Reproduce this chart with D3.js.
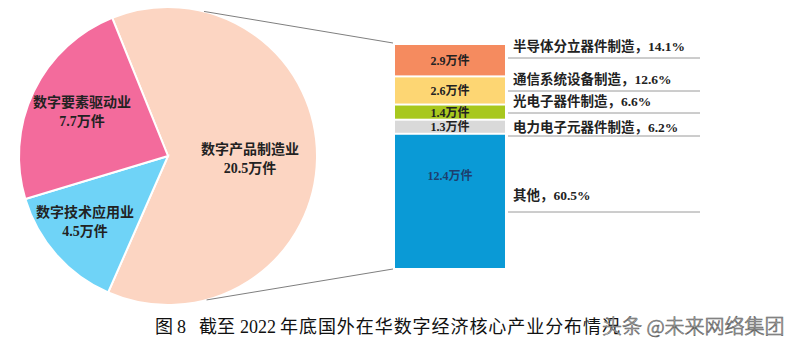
<!DOCTYPE html>
<html><head><meta charset="utf-8">
<script src="https://cdn.jsdelivr.net/npm/d3@7"></script>
<style>
html,body{margin:0;padding:0;background:#fff;}
svg{display:block;}
</style></head>
<body>
<svg id="chart" width="800" height="352"></svg>
<script>
// Pie data (万件)
const pieNames = ["数字产品制造业", "数字技术应用业", "数字要素驱动业"];
const pieValues = [20.5, 4.5, 7.7];
const pieColors = ["#FCD5C2", "#6FD3F7", "#F36B9C"];

// Breakdown of 数字产品制造业 (万件)
const barNames = ["半导体分立器件制造", "通信系统设备制造", "光电子器件制造", "电力电子元器件制造", "其他"];
const barValues = [2.9, 2.6, 1.4, 1.3, 12.4];
const barShares = ["14.1%", "12.6%", "6.6%", "6.2%", "60.5%"];
const barColors = ["#F58B5F", "#FDD673", "#A8C81E", "#D9D9D9", "#0A9AD6"];

const captionParts = ["图", "8", "截至", "2022", "年底国外在华数字经济核心产业分布情况"];
const watermark = "头条 @未来网络集团";

const svg = d3.select("#chart");
const FONT = "'Liberation Serif','Noto Sans CJK SC',serif";

// ---- Pie ----
const cx = 168, cy = 156, R = 149;
const deg = Math.PI / 180;
const pie = d3.pie().sort(null).value(d => d).startAngle(-22 * deg).endAngle(338 * deg);
const arcs = pie(pieValues);
const arc = d3.arc().innerRadius(0).outerRadius(R);
const g = svg.append("g").attr("transform", `translate(${cx},${cy})`);
g.selectAll("path").data(arcs).join("path")
  .attr("d", arc)
  .attr("fill", (d, i) => pieColors[i])
  .attr("stroke", "#fff").attr("stroke-width", 2);

const labelPos = [[82, -2], [-83, 61], [-86, -49]];
arcs.forEach((a, i) => {
  const t = g.append("text")
    .attr("x", labelPos[i][0]).attr("y", labelPos[i][1])
    .attr("text-anchor", "middle")
    .attr("font-family", FONT).attr("font-weight", "bold")
    .attr("font-size", 14).attr("fill", "#222");
  t.append("tspan").attr("x", labelPos[i][0]).attr("dy", 0).text(pieNames[i]);
  t.append("tspan").attr("x", labelPos[i][0]).attr("dy", 19).text(pieValues[i] + "万件");
});

// ---- Stacked bar ----
const barX = 395, barW = 110, barTop = 45, barBottom = 268;
let cum = 0;
const stack = barValues.map((v, i) => { const s = cum; cum += v; return {i, v, y0: s, y1: cum}; });
const y = d3.scaleLinear().domain([0, cum]).range([barTop, barBottom]);
const gap = 2;
svg.selectAll("rect.seg").data(stack).join("rect")
  .attr("class", "seg")
  .attr("x", barX).attr("width", barW)
  .attr("y", d => y(d.y0) + (d.i === 0 ? 0 : gap / 2))
  .attr("height", d => y(d.y1) - y(d.y0) - (d.i === 0 || d.i === stack.length - 1 ? gap / 2 : gap))
  .attr("fill", d => barColors[d.i]);

svg.selectAll("text.seg").data(stack).join("text")
  .attr("class", "seg")
  .attr("x", barX + barW / 2)
  .attr("y", d => d.i === stack.length - 1 ? y(d.y0) + 46 : (y(d.y0) + y(d.y1)) / 2 + 4.5)
  .attr("text-anchor", "middle")
  .attr("font-family", FONT).attr("font-weight", "bold")
  .attr("font-size", 12)
  .attr("fill", d => d.i === stack.length - 1 ? "#1d3f6e" : "#222")
  .text(d => d.v + "万件");

// connectors from pie to bar
const a1 = 14 * deg, a2 = 165 * deg;
svg.append("line")
  .attr("x1", cx + R * Math.sin(a1)).attr("y1", cy - R * Math.cos(a1))
  .attr("x2", barX - 2).attr("y2", barTop - 2)
  .attr("stroke", "#7f7f7f").attr("stroke-width", 1);
svg.append("line")
  .attr("x1", cx + R * Math.sin(a2)).attr("y1", cy - R * Math.cos(a2))
  .attr("x2", barX - 2).attr("y2", barBottom + 1)
  .attr("stroke", "#7f7f7f").attr("stroke-width", 1);

// right labels with underlines
const labelY = [51, 84, 106, 132, 200];
const lineY = [58, 91, 113, 136, 212];
barNames.forEach((n, i) => {
  svg.append("text")
    .attr("x", 513).attr("y", labelY[i])
    .attr("font-family", FONT).attr("font-weight", "bold")
    .attr("font-size", 13.5).attr("fill", "#222")
    .text(n + "，" + barShares[i]);
  svg.append("line")
    .attr("x1", 508).attr("x2", 700)
    .attr("y1", lineY[i]).attr("y2", lineY[i])
    .attr("stroke", "#9a9a9a").attr("stroke-width", 1);
});

// caption, drawn as a single text with positioned pieces
const capX = [155, 177, 199, 240, 280];
const cap = svg.append("text")
  .attr("y", 333)
  .attr("font-family", "'Liberation Serif','Noto Sans CJK SC',serif")
  .attr("font-size", 18).attr("fill", "#111");
captionParts.forEach((p, i) => {
  const ts = cap.append("tspan").attr("x", capX[i]).text(p);
  if (i === captionParts.length - 1) ts.attr("textLength", 340).attr("lengthAdjust", "spacing");
});

// watermark (outlined, white fill)
svg.append("text")
  .attr("x", 602).attr("y", 334)
  .attr("font-family", "'Noto Sans CJK SC',sans-serif")
  .attr("font-size", 20).attr("font-weight", 300).attr("fill", "#fff")
  .attr("stroke", "#666").attr("stroke-width", 0.7)
  .text(watermark);
</script>
</body></html>
